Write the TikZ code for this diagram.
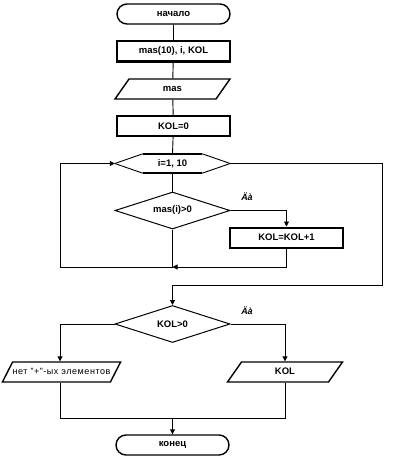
\documentclass[tikz,border=0pt]{standalone}
\usepackage{fontspec}
\setmainfont{Liberation Sans}
\usetikzlibrary{shapes.misc,shapes.geometric,arrows.meta}
\begin{document}
\begin{tikzpicture}[x=1pt,y=-1pt,
  font=\bfseries\fontsize{9.5}{11}\selectfont,
  term/.style={draw,rounded rectangle,minimum width=113pt,minimum height=20pt,inner sep=0pt,line width=1.4pt},
  proc/.style={draw,rectangle,minimum width=113pt,minimum height=20pt,inner sep=0pt,line width=2pt},
  io/.style={draw,trapezium,trapezium left angle=55,trapezium right angle=125,trapezium stretches body,text height=7pt,text depth=2pt,inner xsep=0pt,inner ysep=5.5pt,line width=1.4pt},
  dec/.style={draw,diamond,aspect=3.1,minimum width=115pt,minimum height=37pt,inner sep=0pt,line width=1pt},
  conn/.style={line width=0.9pt},
  arr/.style={conn,-{Triangle[length=5pt,width=5pt]}},
  lab/.style={font=\bfseries\itshape\fontsize{9}{11}\selectfont},
]
\useasboundingbox (0,0) rectangle (409,460);
\node[term] (start) at (173.5,14) {начало};
\node[proc] (decl) at (173.5,51.5) {mas(10), i, KOL};
\node[io,minimum width=115pt] (inp) at (172.5,89) {mas};
\node[proc] (init) at (173.5,126) {KOL=0};
\node[rectangle,minimum width=115pt,minimum height=19pt,inner sep=0pt] (loop) at (172.5,163.5) {i=1, 10};
\draw[conn] (loop.west) -- ([xshift=28pt]loop.north west);
\draw[conn] (loop.west) -- ([xshift=28pt]loop.south west);
\draw[conn] (loop.east) -- ([xshift=-28pt]loop.north east);
\draw[conn] (loop.east) -- ([xshift=-28pt]loop.south east);
\draw[line width=2pt] ([xshift=28pt]loop.north west) -- ([xshift=-28pt]loop.north east);
\draw[line width=2pt] ([xshift=28pt]loop.south west) -- ([xshift=-28pt]loop.south east);
\node[dec] (cond) at (172.5,210.5) {mas(i)>0};
\node[proc] (inc) at (286.5,237.5) {KOL=KOL+1};
\node[lab] (y1) at (247,197) {Äà};
\coordinate (j1) at (172.5,267);
\node[dec] (cond2) at (172.5,324) {KOL>0};
\node[lab] (y2) at (247,311) {Äà};
\node[io,minimum width=113pt,trapezium left angle=63,trapezium right angle=117,font=\fontsize{9}{10}\selectfont\addfontfeature{LetterSpace=6}] (no) at (61.5,372) {нет "+"-ых элементов};
\node[io,minimum width=115pt] (yes) at (285,372) {KOL};
\coordinate (j2) at (172.5,418);
\node[term] (end) at (172.5,445) {конец};

\draw[conn] (start) -- (decl);
\draw[conn] (decl) -- (inp);
\draw[conn] (inp) -- (init);
\draw[conn] (init) -- (loop.north);
\draw[conn] (loop.south) -- (cond.north);
\draw[arr] (cond.east) -| (inc.north);
\draw[arr] (inc.south) |- (j1);
\draw[conn] (cond.south) -- (j1);
\draw[arr] (j1) -- ++(-112.5,0) |- (loop.west);
\draw[arr] (loop.east) -- ++(152,0) -- ++(0,121.5) -| (cond2.north);
\draw[arr] (cond2.west) -| ([xshift=-1.5pt]no.north);
\draw[arr] (cond2.east) -| (yes.north);
\draw[conn] ([xshift=-1.5pt]no.south) |- (j2);
\draw[conn] (yes.south) |- (j2);
\draw[arr] (j2) -- (end);
\end{tikzpicture}
\end{document}
